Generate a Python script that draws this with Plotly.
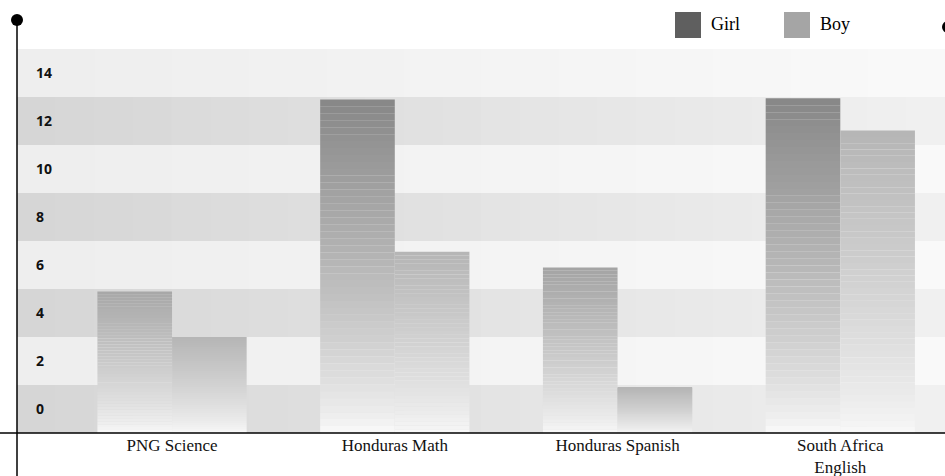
import plotly.graph_objects as go

categories = ["PNG Science", "Honduras Math", "Honduras Spanish", "South Africa<br>English"]
girl = [5.9, 13.9, 6.9, 13.95]
boy = [4.0, 7.55, 1.9, 12.6]
tick_values = [0, 2, 4, 6, 8, 10, 12, 14]
series_names = ["Girl", "Boy"]

N = 48  # gradient slices per bar


def lerp(a, b, t):
    return a + (b - a) * t


def gray(v):
    v = int(round(max(0, min(255, v))))
    return f"rgb({v},{v},{v})"


def top_shade(name, v):
    if name == "Girl":
        return 136 + (14 - v) * 4.0
    return 182


fig = go.Figure()
for name, vals in (("Girl", girl), ("Boy", boy)):
    for k in range(N):
        t = k / (N - 1)  # 0 bottom -> 1 top
        colors = [gray(lerp(247, top_shade(name, v), t ** 0.8)) for v in vals]
        fig.add_trace(go.Bar(
            x=categories,
            y=[v / N for v in vals],
            base=[v * k / N for v in vals],
            offsetgroup=name,
            marker=dict(color=colors, line=dict(width=0)),
            showlegend=False,
            hoverinfo="skip",
        ))

shapes = []
# horizontal gradient bands
steps = 24
for tv in tick_values:
    dark = (tv // 2) % 2 == 0
    for s in range(steps):
        t = s / (steps - 1)
        c = lerp(214, 240, t) if dark else lerp(238, 249, t)
        shapes.append(dict(type="rect", xref="paper", yref="y",
                           x0=s / steps, x1=(s + 1) / steps + 0.001,
                           y0=tv, y1=tv + 2, fillcolor=gray(c),
                           line=dict(width=0), layer="below"))

# axis lines with dots
W, H = 945, 476
l, r, t_m, b_m = 17, 0, 49, 43
pw, ph = W - l - r, H - t_m - b_m


def px_x(x):
    return (x - l) / pw


def px_y(y):
    return (H - b_m - y) / ph


shapes.append(dict(type="line", xref="paper", yref="paper",
                   x0=0, x1=0, y0=px_y(476), y1=px_y(20),
                   line=dict(color="black", width=1.5)))
shapes.append(dict(type="line", xref="paper", yref="paper",
                   x0=px_x(0), x1=1, y0=0, y1=0,
                   line=dict(color="black", width=1.5)))
shapes.append(dict(type="circle", xref="paper", yref="paper",
                   x0=px_x(11), x1=px_x(23), y0=px_y(14), y1=px_y(26),
                   fillcolor="black", line=dict(width=0)))
shapes.append(dict(type="circle", xref="paper", yref="paper",
                   x0=px_x(942), x1=px_x(954), y0=px_y(21), y1=px_y(33),
                   fillcolor="black", line=dict(width=0)))

# legend swatches
legend_colors = {"Girl": "#5f5f5f", "Boy": "#a5a5a5"}
legend_x = {"Girl": 675, "Boy": 784}
annotations = []
for nm in series_names:
    x0 = legend_x[nm]
    shapes.append(dict(type="rect", xref="paper", yref="paper",
                       x0=px_x(x0), x1=px_x(x0 + 26), y0=px_y(38), y1=px_y(12),
                       fillcolor=legend_colors[nm], line=dict(width=0)))
    annotations.append(dict(xref="paper", yref="paper", x=px_x(x0 + 34), y=px_y(24),
                            text=nm, showarrow=False, xanchor="left", yanchor="middle",
                            font=dict(family="Liberation Serif", size=18, color="black")))

fig.update_layout(
    width=W, height=H,
    margin=dict(l=l, r=r, t=t_m, b=b_m),
    paper_bgcolor="white", plot_bgcolor="white",
    barmode="group", bargap=0.33, bargroupgap=0,
    showlegend=False,
    shapes=shapes, annotations=annotations,
    xaxis=dict(range=[-0.696, 3.47], showgrid=False, zeroline=False, showline=False,
               ticks="", tickfont=dict(family="Liberation Serif", size=17, color="#111"),
               ticklabelstandoff=0),
    yaxis=dict(range=[0, 16], showgrid=False, zeroline=False, showline=False,
               tickvals=[v + 1 for v in tick_values], ticktext=[str(v) for v in tick_values],
               ticklabelposition="inside", ticklabelstandoff=16, ticks="",
               tickfont=dict(family="Open Sans", size=14, color="#111", weight="bold")),
)

fig.write_html("out.html", config={"displayModeBar": False},
               post_script="document.body.style.margin='0px';")
